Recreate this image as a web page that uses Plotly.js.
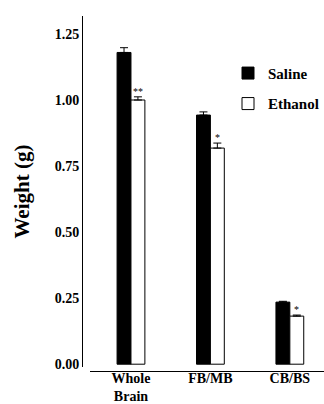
<!DOCTYPE html>
<html><head><meta charset="utf-8">
<script src="https://cdn.plot.ly/plotly-3.0.1.min.js"></script>
<style>html,body{margin:0;padding:0;background:#fff;}#chart{width:324px;height:404px;}</style>
</head><body><div id="chart"></div>
<script>
const categories = ["Whole<br>Brain", "FB/MB", "CB/BS"];
const salineMean = [1.18, 0.943, 0.235];
const salineErr = [0.018, 0.012, 0.003];
const ethanolMean = [1.0, 0.818, 0.182];
const ethanolErr = [0.012, 0.019, 0.004];
const ethanolSig = ["**", "*", "*"];
const yTicks = [0, 0.25, 0.5, 0.75, 1.0, 1.25];

const font = {family: "Liberation Serif", color: "#000"};
const traces = [
  {type: "bar", name: "Saline", legendgroup: "s", x: categories, y: salineMean,
   marker: {color: "#000", line: {color: "#000", width: 1}},
   error_y: {type: "data", array: salineErr, arrayminus: salineErr.map(() => 0), symmetric: false, color: "#000", thickness: 1, width: 4}},
  {type: "bar", name: "Ethanol", legendgroup: "e", x: categories, y: ethanolMean,
   marker: {color: "#fff", line: {color: "#000", width: 1}},
   error_y: {type: "data", array: ethanolErr, arrayminus: ethanolErr.map(() => 0), symmetric: false, color: "#000", thickness: 1, width: 4}}
];
const annotations = categories.map((c, i) => ({
  x: c, y: ethanolMean[i] + ethanolErr[i], xref: "x", yref: "y",
  text: ethanolSig[i], showarrow: false, xshift: 7, yanchor: "bottom", yshift: -2,
  font: Object.assign({}, font, {size: 10})
}));
const layout = {
  width: 324, height: 404,
  margin: {l: 82, r: 0, t: 16, b: 33},
  paper_bgcolor: "#fff", plot_bgcolor: "#fff",
  barmode: "group", bargap: 0.65, bargroupgap: 0,
  showlegend: true,
  legend: {x: 1, y: 0.885, xanchor: "right", yanchor: "top", bgcolor: "rgba(0,0,0,0)",
    traceorder: "grouped", tracegroupgap: 8,
    font: Object.assign({}, font, {size: 15, weight: "bold"})},
  xaxis: {type: "category", domain: [0.033, 1], range: [-0.516, 2.43], anchor: "free", position: 0,
    showline: true, linecolor: "#000", linewidth: 1, ticks: "", showgrid: false, zeroline: false,
    ticklabelstandoff: -6,
    tickfont: Object.assign({}, font, {size: 14, weight: "bold"})},
  yaxis: {domain: [0.011, 1], range: [-0.011, 1.318], anchor: "free", position: 0,
    showline: true, linecolor: "#000", linewidth: 1, ticks: "", showgrid: false, zeroline: false,
    tickvals: yTicks, ticktext: yTicks.map(v => v.toFixed(2)),
    tickfont: Object.assign({}, font, {size: 14, weight: "bold"}),
    title: {text: "Weight (g)", standoff: 18, font: Object.assign({}, font, {size: 21, weight: "bold"})}},
  annotations: annotations
};
Plotly.newPlot("chart", traces, layout, {staticPlot: true, displayModeBar: false});
</script></body></html>
